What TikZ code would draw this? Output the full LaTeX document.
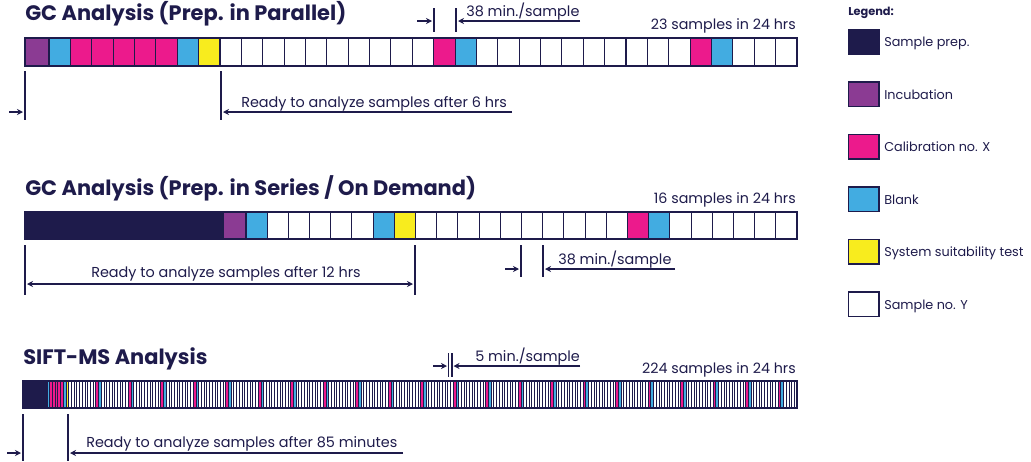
\documentclass[tikz,border=0pt]{standalone}
\usepackage{fontspec}
\setmainfont{Poppins}
\usetikzlibrary{arrows.meta}
\definecolor{navy}{HTML}{1E1B4B}
\definecolor{cpurple}{HTML}{8B3B93}
\definecolor{cblue}{HTML}{42ACE1}
\definecolor{cpink}{HTML}{EC1A8C}
\definecolor{cyellow}{HTML}{F8EC1E}
\begin{document}
\begin{tikzpicture}[x=0.75pt,y=-0.75pt,
  every node/.style={text=navy, inner sep=0pt},
  cell/.style={draw=navy, line width=0.8pt},
  thincell/.style={draw=navy, line width=0.5pt},
  vbar/.style={draw=navy, line width=1.5pt},
  vthin/.style={draw=navy, line width=1pt},
  arr/.style={draw=navy, line width=1.1pt, -{Stealth[length=4.5pt,width=4.5pt]}},
  darr/.style={draw=navy, line width=1.1pt, {Stealth[length=4.5pt,width=4.5pt]}-{Stealth[length=4.5pt,width=4.5pt]}},
  ttl/.style={font=\fontsize{15.7}{18}\selectfont\bfseries, anchor=base west},
  lab/.style={font=\fontsize{10.8}{12}\selectfont, anchor=base west},
  labr/.style={font=\fontsize{10.7}{12}\selectfont, anchor=base east},
  legbox/.style={draw=navy, line width=1.1pt},
  legtxt/.style={font=\fontsize{9.6}{11}\selectfont, anchor=base west}]
\useasboundingbox (0,0) rectangle (1031,461);

% ---------------- Top: GC parallel ----------------
\node[ttl] (t1) at (25,20) {GC Analysis (Prep. in Parallel)};
\filldraw[cell, fill=cpurple] (25,38) rectangle (49,66);
\foreach \c [count=\i from 0] in {cblue,cpink,cpink,cpink,cpink,cpink,cblue,cyellow,
  white,white,white,white,white,white,white,white,white,white,cpink,cblue,
  white,white,white,white,white,white,white,white,white,white,cpink,cblue,white,white,white}
  {\filldraw[cell, fill=\c] ({49+\i*21.371},38) rectangle ({49+(\i+1)*21.371},66);}
\draw[navy, line width=0.9pt] (25,38) rectangle (797,66);

\coordinate (a1) at (25,71); \coordinate (a2) at (25,120);
\coordinate (a3) at (221,71); \coordinate (a4) at (221,120);
\draw[vbar] (a1) -- (a2);
\draw[vbar] (a3) -- (a4);
\coordinate (a5) at (9,112); \coordinate (a6) at (23,112);
\draw[arr] (a5) -- (a6);
\coordinate (a7) at (512,112); \coordinate (a8) at (223,112);
\draw[arr] (a7) -- (a8);
\node[lab] (r1) at (241,107) {Ready to analyze samples after 6 hrs};

\coordinate (b1) at (434,8); \coordinate (b2) at (434,32);
\coordinate (b3) at (456,8); \coordinate (b4) at (456,32);
\draw[vbar] (b1) -- (b2);
\draw[vbar] (b3) -- (b4);
\coordinate (b5) at (417,21); \coordinate (b6) at (432,21);
\coordinate (b7) at (580,21); \coordinate (b8) at (458,21);
\draw[arr] (b5) -- (b6);
\draw[arr] (b7) -- (b8);
\node[lab] (m1) at (466,16) {38 min./sample};
\node[labr] (s1) at (796,29) {23 samples in 24 hrs};

% ---------------- Middle: GC series ----------------
\node[ttl] (t2) at (25,195) {GC Analysis (Prep. in Series / On Demand)};
\filldraw[cell, fill=navy] (25,212) rectangle (223,239);
\filldraw[cell, fill=cpurple] (223,212) rectangle (246,239);
\foreach \c [count=\i from 0] in {cblue,white,white,white,white,white,cblue,cyellow,
  white,white,white,white,white,white,white,white,white,white,cpink,cblue,
  white,white,white,white,white,white}
  {\filldraw[cell, fill=\c] ({246+\i*21.1923},212) rectangle ({246+(\i+1)*21.1923},239);}
\draw[navy, line width=0.9pt] (25,212) rectangle (797,239);

\coordinate (c1) at (25,245); \coordinate (c2) at (25,295);
\coordinate (c3) at (415,245); \coordinate (c4) at (415,295);
\draw[vbar] (c1) -- (c2);
\draw[vbar] (c3) -- (c4);
\coordinate (c5) at (27,284); \coordinate (c6) at (413,284);
\draw[darr] (c5) -- (c6);
\node[font=\fontsize{10.8}{12}\selectfont, anchor=base] (r2) at (226,277) {Ready to analyze samples after 12 hrs};

\coordinate (d1) at (521,245); \coordinate (d2) at (521,277);
\coordinate (d3) at (543,245); \coordinate (d4) at (543,277);
\draw[vbar] (d1) -- (d2);
\draw[vbar] (d3) -- (d4);
\coordinate (d5) at (505,269); \coordinate (d6) at (519,269);
\coordinate (d7) at (675,269); \coordinate (d8) at (545,269);
\draw[arr] (d5) -- (d6);
\draw[arr] (d7) -- (d8);
\node[lab] (m2) at (558,264) {38 min./sample};
\node[labr] (s2) at (796,203) {16 samples in 24 hrs};

% ---------------- Bottom: SIFT-MS ----------------
\node[ttl] (t3) at (23,364) {SIFT-MS Analysis};
\filldraw[cell, fill=navy] (23,381) rectangle (47,408);
\foreach \i in {0,...,276} {
  \pgfmathtruncatemacro{\k}{\i<18 ? -1 : mod(\i-18,12)}
  \ifnum\i=0 \def\cc{cblue}\else
  \ifnum\i<6 \def\cc{cpink}\else
  \ifnum\i=6 \def\cc{cblue}\else
  \ifnum\i=7 \def\cc{cyellow}\else
  \ifnum\k=0 \def\cc{cpink}\else
  \ifnum\k=1 \def\cc{cblue}\else \def\cc{white}\fi\fi\fi\fi\fi\fi
  \filldraw[thincell, fill=\cc] ({47+\i*2.7076},381) rectangle ({47+(\i+1)*2.7076},408);
}
\draw[navy, line width=0.9pt] (23,381) rectangle (797,408);

\coordinate (e1) at (23,414); \coordinate (e2) at (23,461);
\coordinate (e3) at (68,414); \coordinate (e4) at (68,461);
\draw[vbar] (e1) -- (e2);
\draw[vbar] (e3) -- (e4);
\coordinate (e5) at (7,453); \coordinate (e6) at (21,453);
\coordinate (e7) at (403,453); \coordinate (e8) at (70,453);
\draw[arr] (e5) -- (e6);
\draw[arr] (e7) -- (e8);
\node[lab] (r3) at (86,447) {Ready to analyze samples after 85 minutes};

\coordinate (f1) at (448.5,353); \coordinate (f2) at (448.5,377);
\coordinate (f3) at (452,353); \coordinate (f4) at (452,377);
\draw[vthin] (f1) -- (f2);
\draw[vthin] (f3) -- (f4);
\coordinate (f5) at (433,366); \coordinate (f6) at (447,366);
\coordinate (f7) at (580,366); \coordinate (f8) at (453.5,366);
\draw[arr] (f5) -- (f6);
\draw[arr] (f7) -- (f8);
\node[lab] (m3) at (475,361) {5 min./sample};
\node[labr] (s3) at (796,373) {224 samples in 24 hrs};

% ---------------- Legend ----------------
\node[font=\fontsize{8.5}{10}\selectfont\bfseries, anchor=base west] (lg) at (848,15) {Legend:};
\foreach \c/\t [count=\k from 0] in {navy/Sample prep., cpurple/Incubation, cpink/Calibration no. X,
  cblue/Blank, cyellow/System suitability test, white/Sample no. Y} {
  \filldraw[legbox, fill=\c] (848.5,{29.5+52.5*\k}) rectangle (879,{54+52.5*\k});
  \node[legtxt] (leg\k) at (884,{46.5+52.5*\k}) {\t};
}
\end{tikzpicture}
\end{document}
